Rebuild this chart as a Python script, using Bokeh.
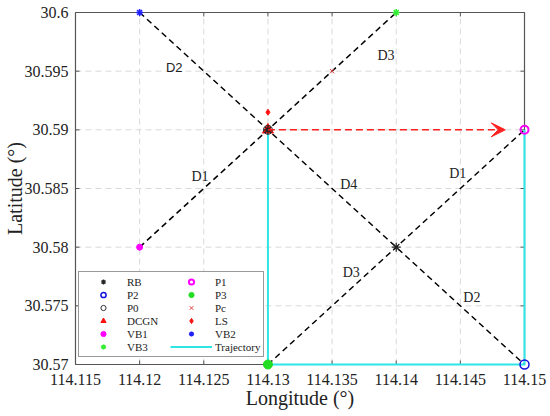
from bokeh.plotting import figure
from bokeh.models import (Range1d, FixedTicker, CustomJSTickFormatter, Legend,
                          LegendItem, Arrow, VeeHead)
from bokeh.core.properties import value
from bokeh.embed import file_html
from bokeh.resources import INLINE

lon_ticks = [114.115, 114.12, 114.125, 114.13, 114.135, 114.14, 114.145, 114.15]
lat_ticks = [30.57, 30.575, 30.58, 30.585, 30.59, 30.595, 30.6]

rb_lon = [114.13, 114.14]
rb_lat = [30.59, 30.58]
p1_lon, p1_lat = [114.15], [30.59]
p2_lon, p2_lat = [114.15], [30.57]
p3_lon, p3_lat = [114.13], [30.57]
p0_lon, p0_lat = [114.13], [30.59]
pc_lon, pc_lat = [114.135], [30.595]
dcgn_lon, dcgn_lat = [114.13], [30.59]
ls_lon, ls_lat = [114.13], [30.5915]
vb1_lon, vb1_lat = [114.12], [30.58]
vb2_lon, vb2_lat = [114.12], [30.6]
vb3_lon, vb3_lat = [114.14], [30.6]

traj_lon = [114.13, 114.13, 114.15, 114.15]
traj_lat = [30.59, 30.57, 30.57, 30.59]

seg_lon0 = [114.12, 114.12, 114.13]
seg_lat0 = [30.6, 30.58, 30.57]
seg_lon1 = [114.15, 114.14, 114.15]
seg_lat1 = [30.57, 30.6, 30.59]

arrow_lon = [114.13, 114.1485]
arrow_lat = [30.59, 30.59]

d_text = ["D3", "D1", "D4", "D1", "D3", "D2"]
d_lon = [114.1392, 114.1247, 114.1363, 114.1448, 114.1365, 114.1459]
d_lat = [30.5963, 30.586, 30.5853, 30.5863, 30.5778, 30.5757]
d2_text, d2_lon, d2_lat = ["D2"], [114.1227], [30.5953]

SERIF = "Liberation Serif"
X0, X1 = lon_ticks[0], lon_ticks[-1]
Y0, Y1 = lat_ticks[0], lat_ticks[-1]

# layout: axes box is 450 x 352 px; the frame is padded by PAD px so edge markers are not clipped
BOX_W, BOX_H, PAD = 450, 352, 6
ux = (X1 - X0) / BOX_W   # data units per px
uy = (Y1 - Y0) / BOX_H
TICK = 4

p = figure(width=550, height=416, output_backend="svg", toolbar_location=None,
           x_range=Range1d(X0 - PAD * ux, X1 + PAD * ux),
           y_range=Range1d(Y0 - PAD * uy, Y1 + PAD * uy),
           min_border_left=68, min_border_right=20, min_border_top=6, min_border_bottom=46)
p.background_fill_color = "white"
p.border_fill_color = "white"
p.outline_line_color = None
p.grid.visible = False

fmt = CustomJSTickFormatter(code="return String(Number(tick.toFixed(3)));")
for ax, ticks in ((p.xaxis[0], lon_ticks), (p.yaxis[0], lat_ticks)):
    ax.ticker = FixedTicker(ticks=ticks)
    ax.formatter = fmt
    ax.major_label_text_font = SERIF
    ax.major_label_text_font_size = "16px"
    ax.major_label_text_color = "#222222"
    ax.axis_label_text_font = SERIF
    ax.axis_label_text_font_size = "20px"
    ax.axis_label_text_font_style = "normal"
    ax.axis_label_text_color = "#222222"
    ax.axis_line_color = None
    ax.major_tick_line_color = None
    ax.major_tick_in = 0
    ax.major_tick_out = 0
    ax.minor_tick_line_color = None
p.xaxis[0].major_label_standoff = 3
p.xaxis[0].axis_label_standoff = -1
p.yaxis[0].major_label_standoff = 1
p.yaxis[0].axis_label_standoff = -4
p.xaxis[0].axis_label = "Longitude (°)"
p.yaxis[0].axis_label = "Latitude (°)"

# dashed grid inside the box
inner_lon = lon_ticks[1:-1]
inner_lat = lat_ticks[1:-1]
p.segment(x0=inner_lon, y0=[Y0] * len(inner_lon), x1=inner_lon, y1=[Y1] * len(inner_lon),
          line_color="#d9d9d9", line_width=1, line_dash="6 4")
p.segment(x0=[X0] * len(inner_lat), y0=inner_lat, x1=[X1] * len(inner_lat), y1=inner_lat,
          line_color="#d9d9d9", line_width=1, line_dash="6 4")

# box
p.quad(left=[X0], right=[X1], bottom=[Y0], top=[Y1], fill_color=None,
       line_color="#555555", line_width=1.2)

# inward ticks on all four sides
p.segment(x0=inner_lon, y0=[Y0] * len(inner_lon), x1=inner_lon, y1=[Y0 + TICK * uy] * len(inner_lon),
          line_color="#555555", line_width=1)
p.segment(x0=inner_lon, y0=[Y1] * len(inner_lon), x1=inner_lon, y1=[Y1 - TICK * uy] * len(inner_lon),
          line_color="#555555", line_width=1)
p.segment(x0=[X0] * len(inner_lat), y0=inner_lat, x1=[X0 + TICK * ux] * len(inner_lat), y1=inner_lat,
          line_color="#555555", line_width=1)
p.segment(x0=[X1] * len(inner_lat), y0=inner_lat, x1=[X1 - TICK * ux] * len(inner_lat), y1=inner_lat,
          line_color="#555555", line_width=1)

# dashed black lines
p.segment(x0=seg_lon0, y0=seg_lat0, x1=seg_lon1, y1=seg_lat1,
          line_color="black", line_width=1.5, line_dash="6 4")

# trajectory
traj = p.line(traj_lon, traj_lat, line_color="#2ee6e6", line_width=2)

# red arrow
p.add_layout(Arrow(x_start=arrow_lon[0], y_start=arrow_lat[0], x_end=arrow_lon[1], y_end=arrow_lat[1],
                   line_color="#ff2020", line_width=1.5, line_dash="7 4",
                   end=VeeHead(size=14, fill_color="#ff2020", line_color="#ff2020")))

# labels
p.text(x=d_lon, y=d_lat, text=d_text, text_font=value(SERIF), text_font_size="14px",
       text_align="center", text_baseline="middle", text_color="#222222")
p.text(x=d2_lon, y=d2_lat, text=d2_text, text_font=value("Liberation Sans"), text_font_size="13px",
       text_align="center", text_baseline="middle", text_color="#222222")

r_dcgn = p.scatter(dcgn_lon, dcgn_lat, marker="triangle", size=11, fill_color="#ff1010", line_color="#ff1010")
r_p0 = p.scatter(p0_lon, p0_lat, marker="circle", size=9, fill_color=None, line_color="#333333", line_width=1)
r_rb = p.scatter(rb_lon, rb_lat, marker="asterisk", size=9, line_color="#222222", line_width=1.2)
r_p1 = p.scatter(p1_lon, p1_lat, marker="circle", size=8, fill_color=None, line_color="#ff00ff", line_width=2)
r_p2 = p.scatter(p2_lon, p2_lat, marker="circle", size=9, fill_color=None, line_color="#1010dd", line_width=1.5)
r_p3 = p.scatter(p3_lon, p3_lat, marker="circle", size=9, fill_color="#22dd22", line_color="#22dd22")
r_pc = p.scatter(pc_lon, pc_lat, marker="x", size=6, line_color="#e04040", line_width=1)
r_ls = p.scatter(ls_lon, ls_lat, marker="diamond", size=6, fill_color="#ff1010", line_color="#ff1010")
r_vb1 = p.scatter(vb1_lon, vb1_lat, marker="circle", size=6, fill_color="#ff00ff", line_color="#ff00ff")
r_vb2 = p.scatter(vb2_lon, vb2_lat, marker="asterisk", size=7, line_color="#2020ff", line_width=1.5)
r_vb3 = p.scatter(vb3_lon, vb3_lat, marker="asterisk", size=7, line_color="#33ee33", line_width=1.5)

items = [
    LegendItem(label="RB", renderers=[r_rb]),
    LegendItem(label="P1", renderers=[r_p1]),
    LegendItem(label="P2", renderers=[r_p2]),
    LegendItem(label="P3", renderers=[r_p3]),
    LegendItem(label="P0", renderers=[r_p0]),
    LegendItem(label="Pc", renderers=[r_pc]),
    LegendItem(label="DCGN", renderers=[r_dcgn]),
    LegendItem(label="LS", renderers=[r_ls]),
    LegendItem(label="VB1", renderers=[r_vb1]),
    LegendItem(label="VB2", renderers=[r_vb2]),
    LegendItem(label="VB3", renderers=[r_vb3]),
    LegendItem(label="Trajectory", renderers=[traj]),
]
legend = Legend(items=items, location=(9, 13), orientation="horizontal", ncols=2,
                label_text_font=SERIF, label_text_font_size="11px", label_text_color="#222222",
                glyph_width=42, glyph_height=13, label_height=13, label_standoff=3, label_width=43,
                spacing=0, padding=3, margin=0,
                border_line_color="#333333", border_line_width=1.5,
                background_fill_alpha=1.0)
p.add_layout(legend, "center")

open("out.html", "w").write(file_html(p, INLINE))
